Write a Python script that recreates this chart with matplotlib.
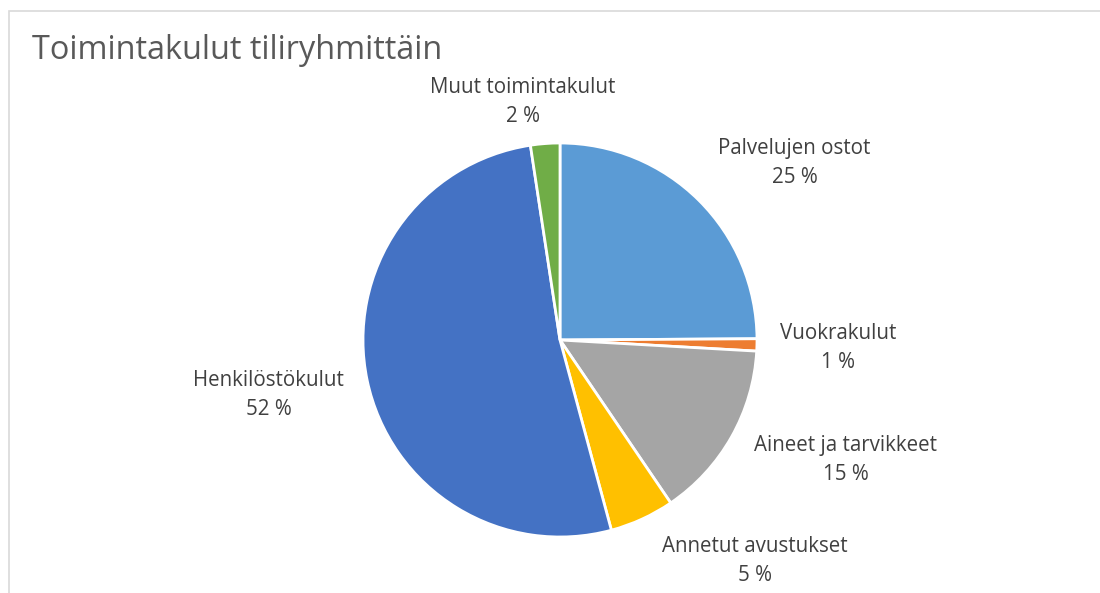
import matplotlib
matplotlib.use('Agg')
import matplotlib.pyplot as plt
from matplotlib.patches import Rectangle

plt.rcParams['font.family'] = ['Open Sans', 'DejaVu Sans']

# Tiedot (arvioitu kuvasta)
categories = ['Palvelujen ostot', 'Vuokrakulut', 'Aineet ja tarvikkeet',
              'Annetut avustukset', 'Henkilöstökulut', 'Muut toimintakulut']
shares = [24.9, 1.0, 14.6, 5.3, 51.8, 2.4]
colors = ['#5B9BD5', '#ED7D31', '#A5A5A5', '#FFC000', '#4472C4', '#70AD47']

# Selitteiden paikat (piirakan säteen yksiköissä)
label_pos = [(1.19, 0.90), (1.41, -0.04), (1.45, -0.61),
             (0.99, -1.12), (-1.48, -0.28), (-0.19, 1.21)]

W, H = 1100, 593
fig = plt.figure(figsize=(W / 100, H / 100), dpi=100)

# Kehys
fig.add_artist(Rectangle((9 / W, -0.1), 1.2, (H - 11) / H + 0.1,
                         transform=fig.transFigure, fill=False,
                         edgecolor='#d9d9d9', linewidth=1.2))

fig.text(32 / W, (H - 59) / H, 'Toimintakulut tiliryhmittäin',
         fontsize=23.4, color='#595959', va='baseline', ha='left')

cx, cy, r = 560, 340, 197
ax = fig.add_axes([(cx - r) / W, (H - cy - r) / H, 2 * r / W, 2 * r / H])
ax.pie(shares, colors=colors, startangle=90, counterclock=False,
       wedgeprops=dict(edgecolor='white', linewidth=2))
ax.set_xlim(-1, 1)
ax.set_ylim(-1, 1)

total = sum(shares)
for name, v, (x, y) in zip(categories, shares, label_pos):
    ax.text(x, y, f'{name}\n{round(v / total * 100)} %', ha='center',
            va='center', fontsize=14.8, color='#404040', linespacing=1.5,
            clip_on=False)

fig.savefig('out.png', dpi=100)
